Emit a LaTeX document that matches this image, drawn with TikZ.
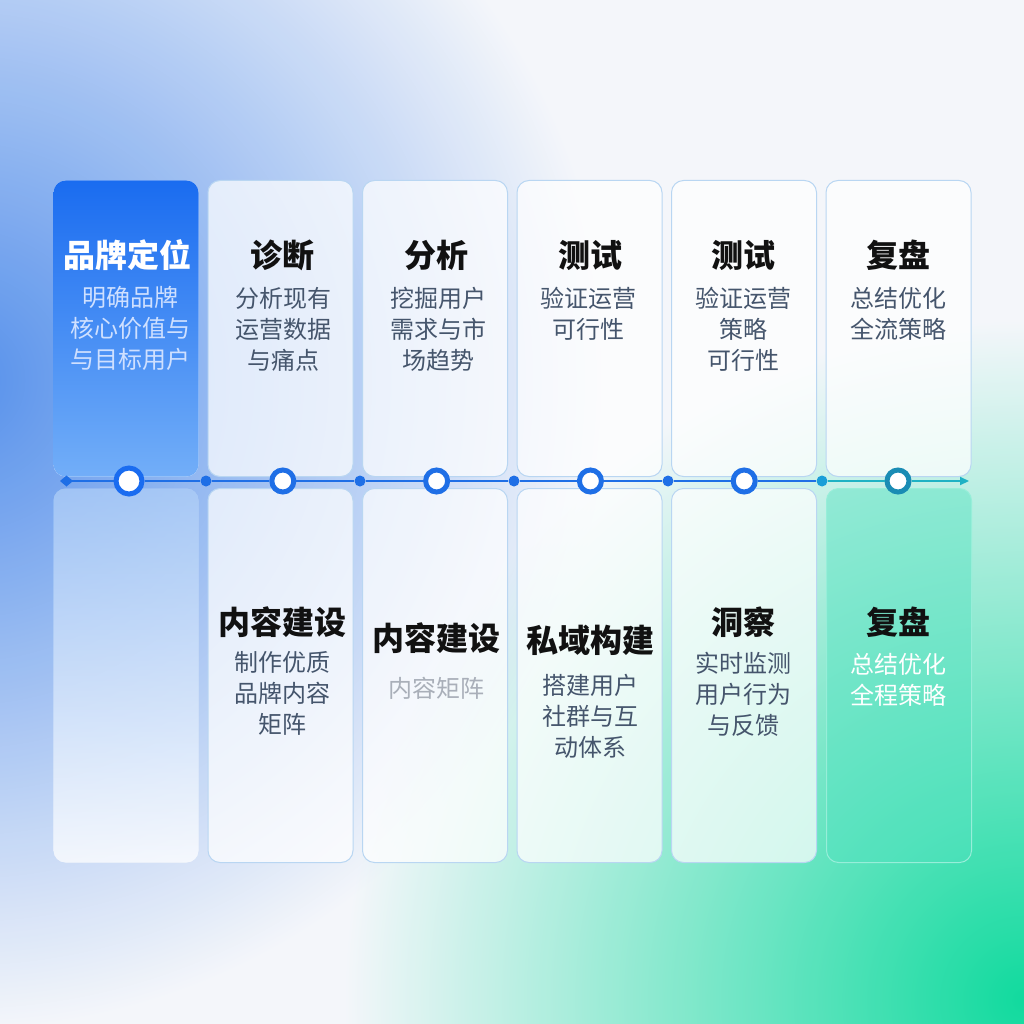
\documentclass[tikz,border=0pt]{standalone}
\usepackage{fontspec}
\setmainfont{Noto Sans CJK SC}
\usetikzlibrary{arrows.meta}
\definecolor{bgwhite}{HTML}{F4F6FA}
\definecolor{blueblob}{HTML}{5A96F0}
\definecolor{greenblob}{HTML}{12E3A2}
\definecolor{lineblue}{HTML}{1F6FE6}
\definecolor{lineteal}{HTML}{1FB2C4}
\definecolor{ringteal}{HTML}{1A8CB4}
\definecolor{dotteal}{HTML}{1A9ED8}
\definecolor{cardedge}{HTML}{B9D6F2}
\definecolor{cardblue}{HTML}{1A6CF0}
\definecolor{cardbluelow}{HTML}{72AEF8}
\definecolor{fadeblue}{HTML}{86B6F4}
\definecolor{cardgreen}{HTML}{52E2C0}
\definecolor{titleblack}{HTML}{111111}
\definecolor{subtext}{HTML}{45556C}
\definecolor{subwhite}{HTML}{CFE0FF}
\definecolor{subgray}{HTML}{A9AFB9}
\begin{document}
\begin{tikzpicture}[x=1pt, y=-1pt,
    card/.style={draw=cardedge, line width=1pt, fill=white, fill opacity=0.72,
      rounded corners=12pt, minimum width=145pt, inner sep=0pt, anchor=north west},
    ring/.style={circle, draw=lineblue, line width=5pt, fill=white, minimum size=22pt, inner sep=0pt},
    dot/.style={circle, fill=lineblue, minimum size=11pt, inner sep=0pt},
    ttl/.style={font=\fontsize{32}{36}\selectfont\bfseries, text=titleblack, inner sep=0pt},
    sub/.style={font=\fontsize{24}{31}\selectfont, text=subtext, align=center, inner sep=0pt, anchor=north},
    tline/.style={line width=2pt, draw=lineblue}
  ]
  \useasboundingbox (0,0) rectangle (1024,1024);
  \clip (0,0) rectangle (1024,1024);
  % background
  \fill[bgwhite] (0,0) rectangle (1024,1024);
  \begin{scope}[blend mode=multiply]
    \shade[inner color=blueblob, outer color=white] (-40,380) circle[radius=650];
    \shade[inner color=greenblob, outer color=white] (1024,1000) circle[radius=680];
  \end{scope}

  % cards
  \foreach \i in {2,...,6} {
    \pgfmathsetmacro\cx{53+154.5*(\i-1)}
    \node[card, minimum height=296pt] (top\i) at (\cx,180) {};
  }
  \foreach \i in {2,...,5} {
    \pgfmathsetmacro\cx{53+154.5*(\i-1)}
    \node[card, minimum height=374pt] (bot\i) at (\cx,488) {};
  }
  \node[card, draw=none, fill opacity=1, top color=cardblue, bottom color=cardbluelow,
    minimum height=296pt] (top1) at (53,180) {};
  \node[card, draw=none, top color=fadeblue, bottom color=white, fill opacity=0.5,
    minimum height=374pt] (bot1) at (53,488) {};
  \node[card, draw=cardgreen!60!white, fill=cardgreen, fill opacity=0.45,
    minimum height=374pt] (bot6) at (826,488) {};

  % timeline
  \coordinate (tlstart) at (60,481);
  \coordinate (tlend) at (969,481);
  \node[ring, minimum size=26pt, draw=cardblue] (ring1) at (129,481) {};
  \foreach \i in {2,...,5}
    \node[ring] (ring\i) at ({129+153.8*(\i-1)},481) {};
  \node[ring, draw=ringteal] (ring6) at (898,481) {};
  \foreach \i in {1,...,4}
    \node[dot] (gap\i) at ({206+154*(\i-1)},481) {};
  \node[dot, fill=dotteal] (gap5) at (822,481) {};
  \draw[tline, {Diamond[length=13pt,width=11pt]}-] (tlstart) -- (ring1);
  \draw[tline] (ring1) -- (gap1) -- (ring2) -- (gap2) -- (ring3) -- (gap3)
    -- (ring4) -- (gap4) -- (ring5) -- (gap5);
  \draw[tline, draw=lineteal] (gap5) -- (ring6);
  \draw[tline, draw=lineteal, -{Triangle[length=9pt,width=8pt]}] (ring6) -- (tlend);

  % top texts
  \node[ttl, text=white] (t1) at (127,255) {品牌定位};
  \node[ttl] (t2) at (282,255) {诊断};
  \node[ttl] (t3) at (436,255) {分析};
  \node[ttl] (t4) at (590,255) {测试};
  \node[ttl] (t5) at (743,255) {测试};
  \node[ttl] (t6) at (898,255) {复盘};
  \node[sub, text=subwhite] (s1) at (130,286) {明确品牌\\核心价值与\\与目标用户};
  \node[sub] (s2) at (283,287) {分析现有\\运营数据\\与痛点};
  \node[sub] (s3) at (438,287) {挖掘用户\\需求与市\\场趋势};
  \node[sub] (s4) at (588,287) {验证运营\\可行性};
  \node[sub] (s5) at (743,287) {验证运营\\策略\\可行性};
  \node[sub] (s6) at (898,287) {总结优化\\全流策略};

  % bottom texts
  \node[ttl] (b2) at (282,622) {内容建设};
  \node[ttl] (b3) at (436,638) {内容建设};
  \node[ttl] (b4) at (590,640) {私域构建};
  \node[ttl] (b5) at (743,622) {洞察};
  \node[ttl] (b6) at (898,622) {复盘};
  \node[sub] (bs2) at (282,651) {制作优质\\品牌内容\\矩阵};
  \node[sub, text=subgray] (bs3) at (436,677) {内容矩阵};
  \node[sub] (bs4) at (590,674) {搭建用户\\社群与互\\动体系};
  \node[sub] (bs5) at (743,652) {实时监测\\用户行为\\与反馈};
  \node[sub, text=white] (bs6) at (898,653) {总结优化\\全程策略};
\end{tikzpicture}
\end{document}
